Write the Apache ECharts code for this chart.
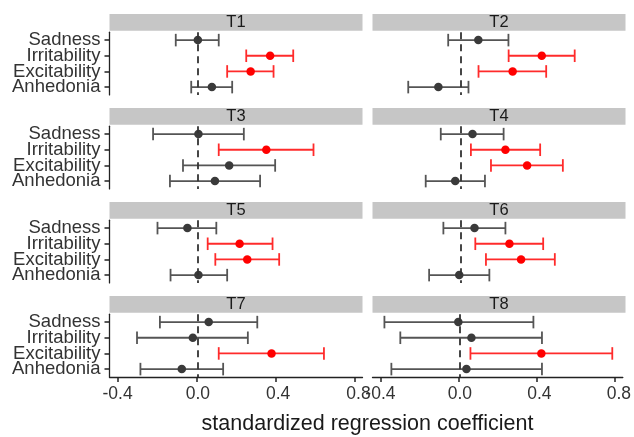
<!DOCTYPE html>
<html>
<head>
<meta charset="utf-8">
<script src="https://cdn.jsdelivr.net/npm/echarts@6/dist/echarts.min.js"></script>
<style>
html,body{margin:0;padding:0;background:#fff;}
#chart{width:634px;height:437px;}
</style>
</head>
<body>
<div id="chart"></div>
<script>
// ---- data ----
const categories = ['Sadness', 'Irritability', 'Excitability', 'Anhedonia'];
const panels = ['T1', 'T2', 'T3', 'T4', 'T5', 'T6', 'T7', 'T8'];
const xTicks = [-0.4, 0.0, 0.4, 0.8];
const axisTitle = 'standardized regression coefficient';

const t1Est  = [0.000, 0.360, 0.263, 0.070];
const t1Low  = [-0.110, 0.241, 0.146, -0.033];
const t1High = [0.104, 0.475, 0.377, 0.171];

const t2Est  = [0.087, 0.403, 0.258, -0.112];
const t2Low  = [-0.063, 0.238, 0.088, -0.262];
const t2High = [0.237, 0.567, 0.425, 0.038];

const t3Est  = [0.003, 0.341, 0.156, 0.085];
const t3Low  = [-0.223, 0.104, -0.074, -0.139];
const t3High = [0.229, 0.576, 0.385, 0.310];

const t4Est  = [0.058, 0.222, 0.330, -0.028];
const t4Low  = [-0.100, 0.050, 0.150, -0.175];
const t4High = [0.213, 0.395, 0.508, 0.120];

const t5Est  = [-0.052, 0.208, 0.246, 0.003];
const t5Low  = [-0.201, 0.049, 0.087, -0.136];
const t5High = [0.092, 0.372, 0.405, 0.146];

const t6Est  = [0.068, 0.242, 0.300, -0.008];
const t6Low  = [-0.087, 0.072, 0.125, -0.158];
const t6High = [0.222, 0.410, 0.468, 0.142];

const t7Est  = [0.054, -0.025, 0.367, -0.080];
const t7Low  = [-0.189, -0.303, 0.104, -0.286];
const t7High = [0.296, 0.249, 0.628, 0.126];

const t8Est  = [-0.008, 0.058, 0.410, 0.033];
const t8Low  = [-0.380, -0.300, 0.053, -0.345];
const t8High = [0.370, 0.413, 0.767, 0.413];

const estimates = [t1Est, t2Est, t3Est, t4Est, t5Est, t6Est, t7Est, t8Est];
const lows = [t1Low, t2Low, t3Low, t4Low, t5Low, t6Low, t7Low, t8Low];
const highs = [t1High, t2High, t3High, t4High, t5High, t6High, t7High, t8High];

// ---- layout / style ----
const FONT = '"Liberation Sans", Arial, Helvetica, sans-serif';
const X_MIN = -0.44, X_MAX = 0.82, X_STEP = 0.04;   // panel x-range (ggplot-style expansion)
const xSlots = [];                                    // evenly spaced axis slots for tick placement
for (let k = 0; k <= Math.round((X_MAX - X_MIN) / X_STEP); k++) xSlots.push((X_MIN + k * X_STEP).toFixed(2));
const isTick = (idx, val) => xTicks.some(t => Math.abs(t - Number(val)) < 1e-9);

const colLeft = [109.5, 372.5];
const panelW = 253;
const rowTop = [30.7, 124.7, 218.7, 312.7];
const panelH = 65.8;
const band = panelH / 4.2;          // ggplot discrete expansion (0.6 on each side)
const stripH = 16.7;
const RED = '#ff0000';
const RED_BAR = '#ff2b2b';
const GRAY_PT = '#3a3a3a';
const GRAY_BAR = '#555555';
const AXIS = '#222222';

const grids = [], xAxes = [], yAxes = [], series = [], graphics = [];

panels.forEach((name, i) => {
  const col = i % 2, row = Math.floor(i / 2);
  const isBottom = row === 3, isLeft = col === 0;
  grids.push({ left: colLeft[col], top: rowTop[row] + 0.1 * band, width: panelW, height: 4 * band });
  // value axis used by the data; carries the tick labels
  xAxes.push({
    type: 'value', gridIndex: i, min: X_MIN, max: X_MAX, position: 'bottom', show: isBottom,
    splitLine: { show: false },
    axisLine: { show: false, onZero: false },
    axisTick: { show: false },
    axisLabel: { show: isBottom, customValues: xTicks, margin: 8, fontSize: 17.5, fontFamily: FONT, color: '#333',
      showMinLabel: true, showMaxLabel: true,
      formatter: v => Number(v).toFixed(1) }
  });
  // axis used for the visible line and ticks
  xAxes.push({
    type: 'category', gridIndex: i, data: xSlots, boundaryGap: false, position: 'bottom', show: isBottom,
    splitLine: { show: false },
    axisLine: { show: isBottom, onZero: false, lineStyle: { color: AXIS, width: 1.3 } },
    axisTick: { show: isBottom, inside: false, interval: isTick, length: 5, lineStyle: { color: AXIS, width: 1.5 } },
    axisLabel: { show: false }
  });
  // value axis used by the data (category j placed at j + 1)
  yAxes.push({
    type: 'value', gridIndex: i, inverse: true, min: 0.5, max: 4.5, position: 'right', show: false,
    splitLine: { show: false }
  });
  // category axis used for labels / ticks only
  yAxes.push({
    type: 'category', gridIndex: i, inverse: true, data: categories, boundaryGap: true, position: 'left',
    splitLine: { show: false },
    axisLine: { show: isLeft, onZero: false, lineStyle: { color: AXIS, width: 1.3 } },
    axisTick: { show: isLeft, inside: false, alignWithLabel: true, interval: 0, length: 5, lineStyle: { color: AXIS, width: 1.5 } },
    axisLabel: { show: isLeft, interval: 0, margin: 9, fontSize: 18.5, fontFamily: FONT, color: '#333', lineHeight: 14 }
  });

  const est = estimates[i], lo = lows[i], hi = highs[i];
  const sig = categories.map((c, j) => (lo[j] > 0 || hi[j] < 0) ? 1 : 0);

  series.push({
    type: 'custom', xAxisIndex: 2 * i, yAxisIndex: 2 * i, z: 2, silent: true,
    data: categories.map((c, j) => [lo[j], hi[j], j + 1, sig[j]]),
    encode: { x: [0, 1], y: 2 },
    renderItem: (params, api) => {
      const a = api.coord([api.value(0), api.value(2)]);
      const b = api.coord([api.value(1), api.value(2)]);
      const h = Math.abs(api.size([0, 0.8])[1]) / 2;
      const color = api.value(3) ? RED_BAR : GRAY_BAR;
      const st = { stroke: color, lineWidth: 1.8 };
      return {
        type: 'group',
        children: [
          { type: 'line', shape: { x1: a[0], y1: a[1], x2: b[0], y2: b[1] }, style: st },
          { type: 'line', shape: { x1: a[0], y1: a[1] - h, x2: a[0], y2: a[1] + h }, style: st },
          { type: 'line', shape: { x1: b[0], y1: b[1] - h, x2: b[0], y2: b[1] + h }, style: st }
        ]
      };
    },
    markLine: {
      silent: true, symbol: 'none', label: { show: false }, animation: false,
      lineStyle: { color: '#333', width: 1.8, type: [7, 5] },
      data: [{ xAxis: 0 }]
    }
  });

  series.push({
    type: 'scatter', xAxisIndex: 2 * i, yAxisIndex: 2 * i, z: 3, symbolSize: 8.5, silent: true,
    data: est.map((v, j) => ({ value: [v, j + 1], itemStyle: { color: sig[j] ? RED : GRAY_PT, opacity: 1 } }))
  });

  graphics.push({
    type: 'group', silent: true,
    children: [
      { type: 'rect', shape: { x: colLeft[col], y: rowTop[row] - stripH, width: panelW, height: stripH },
        style: { fill: '#c6c6c6' } },
      { type: 'text', x: colLeft[col] + panelW / 2, y: rowTop[row] - stripH / 2 + 0.5,
        style: { text: name, fontSize: 16.5, fontFamily: FONT, fill: '#1a1a1a', align: 'center', verticalAlign: 'middle' } }
    ]
  });
});

graphics.push({
  type: 'text', silent: true,
  x: (colLeft[0] + colLeft[1] + panelW) / 2, y: 424,
  style: { text: axisTitle, fontSize: 21.5, fontFamily: FONT, fill: '#1a1a1a', align: 'center', verticalAlign: 'middle' }
});

const chart = echarts.init(document.getElementById('chart'), null, { renderer: 'canvas' });
chart.setOption({
  animation: false,
  backgroundColor: '#ffffff',
  grid: grids, xAxis: xAxes, yAxis: yAxes, series: series, graphic: graphics
});
</script>
</body>
</html>
